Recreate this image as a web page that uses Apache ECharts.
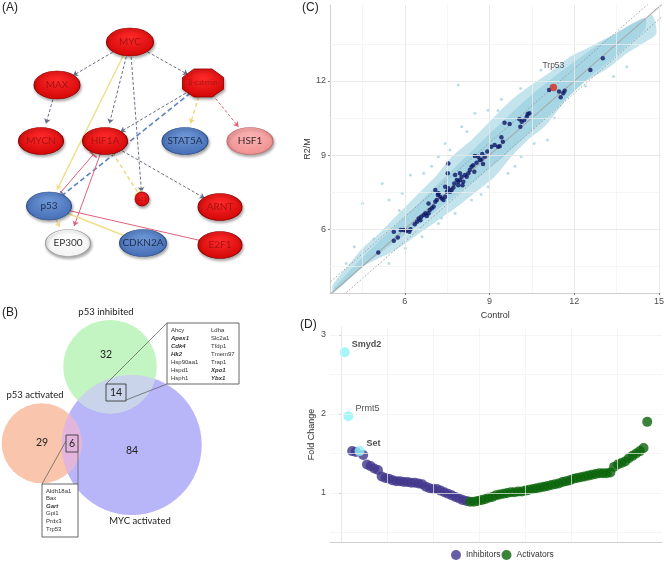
<!DOCTYPE html>
<html><head><meta charset="utf-8">
<script src="https://cdn.jsdelivr.net/npm/echarts@6/dist/echarts.min.js"></script>
<style>html,body{margin:0;padding:0;background:#fff}#c{width:667px;height:561px}</style>
</head><body><div id="c"></div>
<script>
// ================= DATA =================
// Panel A: regulatory network
const netNodes  = ['MYC','MAX','β-catenin','MYCN','HIF1A','STAT5A','HSF1','p21','p53','ARNT','EP300','CDKN2A','E2F1'];
const netStates = ['up','up','up','up','up','down','weak','up','down','up','none','down','up'];
// [source, target, effect, line style]
const netLinks = [
  ['MYC','MAX','act','grey'],
  ['MYC','β-catenin','act','grey'],
  ['MYC','HIF1A','act','grey'],
  ['MYC','p21','act','grey'],
  ['MYC','p53','act','yellow'],
  ['MAX','MYCN','act','grey'],
  ['β-catenin','HIF1A','act','grey'],
  ['β-catenin','STAT5A','act','yellowDash'],
  ['β-catenin','HSF1','act','redDash'],
  ['β-catenin','p53','inh','blueDash'],
  ['HIF1A','ARNT','act','grey'],
  ['HIF1A','p21','inh','yellowDash'],
  ['p53','HIF1A','inh','red'],
  ['HIF1A','EP300','act','red'],
  ['p53','EP300','act','yellow'],
  ['p53','CDKN2A','inh','yellow'],
  ['p53','E2F1','inh','red']
];

// Panel B: Venn diagram
const vennSets   = ['p53 inhibited','p53 activated','MYC activated'];
const vennOnly   = [32, 29, 84];
const vennInhMyc = 14;
const vennActMyc = 6;
const genesInhMycCol1 = ['Ahcy','Apex1','Cdk4','Hk2','Hsp90aa1','Hspd1','Hsph1'];
const genesInhMycCol2 = ['Ldha','Slc2a1','Tfdp1','Tmem97','Trap1','Xpo1','Ybx1'];
const genesActMyc     = ['Aldh18a1','Bax','Gart','Gpi1','Prdx3','Trp53'];
const genesBold       = ['Apex1','Cdk4','Hk2','Xpo1','Ybx1','Gart'];

// Panel C: expression scatter (Control vs R2/M)
const cloudUpper = [[3.45,3.73],[3.80,4.27],[4.15,4.74],[4.50,5.22],[5.09,5.82],[5.67,6.50],[6.37,7.31],[7.08,8.12],[7.66,8.93],[8.36,9.61],[9.06,10.42],[9.77,11.23],[10.47,11.84],[11.17,12.38],[11.87,12.99],[12.57,13.39],[13.27,13.80],[13.86,14.00],[14.21,14.07],[14.74,14.68]];
const cloudLower = [[3.45,3.40],[3.57,3.53],[4.50,4.47],[5.67,5.15],[6.84,6.09],[8.01,7.04],[8.60,7.58],[9.18,8.12],[9.77,8.93],[10.35,9.61],[10.94,10.15],[11.52,10.96],[12.11,11.77],[12.69,12.18],[13.27,12.58],[13.86,13.12],[14.44,13.53],[14.91,13.93]];
const coreUpper  = [[3.50,3.62],[4.50,4.85],[5.50,5.95],[6.50,7.05],[7.50,8.20],[8.50,9.30],[9.50,10.40],[10.50,11.45],[11.50,12.35],[12.50,13.20],[13.50,13.95],[14.50,14.55]];
const coreLower  = [[3.50,3.45],[4.50,4.45],[5.50,5.35],[6.50,6.20],[7.50,7.10],[8.50,8.00],[9.50,8.95],[10.50,10.00],[11.50,11.05],[12.50,12.10],[13.50,13.05],[14.50,14.10]];
const lightOutliers = [[7.89,11.84],[5.20,7.85],[4.50,7.04],[9.42,11.26],[7.43,9.47],[6.20,8.19],[4.21,5.28],[3.92,4.61],[4.74,4.88],[5.44,7.18],[5.91,7.45],[6.67,8.26],[7.19,8.93],[8.01,10.15],[8.48,10.69],[8.95,10.82],[10.94,11.23],[11.75,11.36],[10.82,12.45],[11.52,12.04],[12.22,12.51],[10.12,8.93],[10.58,9.47],[11.05,9.61],[9.65,8.26],[8.95,7.72],[8.36,7.18],[7.78,6.64],[7.19,6.23],[6.61,5.69],[6.02,5.22],[5.44,4.61],[13.39,12.18],[13.86,12.58],[6.95,8.55],[7.60,9.20],[8.20,9.95],[9.30,10.80],[10.10,11.70],[7.30,6.45],[8.70,7.40],[9.90,8.55],[11.30,10.50],[12.40,11.80],[5.80,6.75],[4.90,5.60]];
const darkControl = [5.06,5.61,5.61,5.75,5.85,5.96,6.05,6.16,6.20,6.35,6.43,6.49,6.55,6.58,6.67,6.73,6.78,6.84,6.88,6.96,7.02,7.08,7.13,7.17,7.25,7.31,7.37,7.43,7.49,7.54,7.60,7.66,7.72,7.75,7.84,7.89,7.95,8.01,8.04,8.07,8.13,8.19,8.25,8.30,8.36,8.42,8.46,8.48,8.54,8.60,8.65,8.71,8.74,8.77,8.83,8.92,9.06,9.18,9.30,9.36,9.42,9.47,9.53,9.71,10.06,10.09,10.14,10.23,10.32,10.35,10.41,11.11,11.46,11.52,11.61,11.66,12.57,13.01,7.52,7.54,7.78,7.95,7.89,7.19,7.08,6.84,7.43];
const darkR2M     = [5.05,5.89,5.53,5.66,5.96,5.96,5.93,5.89,5.99,6.20,6.30,6.43,6.36,6.50,6.57,6.64,6.53,6.64,6.77,6.84,6.91,7.11,7.18,7.38,7.31,7.24,7.18,7.31,7.51,7.65,7.51,7.58,7.69,7.85,7.99,7.92,7.99,8.12,7.78,7.92,8.19,8.12,8.26,8.39,8.53,8.59,8.32,8.96,8.69,8.93,8.80,8.82,9.04,8.64,8.93,9.14,9.34,9.41,9.34,9.36,9.72,9.54,10.31,10.26,10.45,10.15,10.35,10.42,10.55,10.66,10.69,11.64,11.57,11.34,11.50,11.61,12.45,12.92,8.26,8.66,8.19,8.26,7.78,7.45,7.58,7.04,7.72];
const trp53Point = [11.26, 11.74];
const diagOffsets = [0, 0.5, -0.5];
const cTicksX = [6, 9, 12, 15];
const cTicksY = [6, 9, 12];
const cGrid   = [4.5, 6, 7.5, 9, 10.5, 12, 13.5, 15];

// Panel D: fold change of inhibitors / activators
const inhibitorRank = [3,4,6,7,8,9,10,11,12,13,14,15,16,17,18,19,20,21,22,23,24,25,26,27,28,29,30,31,32,33,34];
const inhibitorFC   = [1.53,1.52,1.48,1.36,1.34,1.31,1.29,1.21,1.19,1.18,1.16,1.15,1.15,1.14,1.14,1.13,1.13,1.12,1.11,1.08,1.06,1.05,1.05,1.03,1.01,0.99,0.97,0.95,0.93,0.91,0.90];
const activatorRank = [35,36,37,38,39,40,41,42,43,44,45,46,47,48,49,50,51,52,53,54,55,56,57,58,59,60,61,62,63,64,65,66,67,68,69,70,71,72,73,74,75,76,77,78,79,80,81,82,83];
const activatorFC   = [0.89,0.89,0.90,0.91,0.92,0.94,0.95,0.97,0.98,0.99,1.00,1.01,1.01,1.02,1.02,1.03,1.04,1.05,1.06,1.07,1.08,1.09,1.10,1.11,1.12,1.14,1.15,1.16,1.18,1.19,1.20,1.21,1.22,1.23,1.24,1.25,1.25,1.25,1.26,1.33,1.36,1.38,1.40,1.44,1.47,1.50,1.53,1.57,1.90];
const highlightGenes = ['Smyd2','Prmt5','Set'];
const highlightRank  = [1, 2, 5];
const highlightFC    = [2.78, 1.97, 1.53];
const highlightBold  = [true, false, true];
const dTicksY = [1, 2, 3];
const dGridY  = [0.5, 1, 1.5, 2, 2.5, 3];
const dGridX  = [0, 12.5, 25, 37.5, 50, 62.5, 75];

// ================= LAYOUT / STYLE =================
const FONT = 'Liberation Sans, Arial, sans-serif';
const LATO = 'Lato, Liberation Sans, sans-serif';
// network layout (diagram units, panel A)
const netLayout = {
  'MYC':[130,42,47,28], 'MAX':[57,85,46,28], 'β-catenin':[203,83,41,28],
  'MYCN':[41,141,45,27], 'HIF1A':[105,141,45,27], 'STAT5A':[185,141,46,27], 'HSF1':[250,141,46,27],
  'p21':[142,199,14,14], 'p53':[49,206,45,28], 'ARNT':[220,207,44,27],
  'EP300':[68,243,45,27], 'CDKN2A':[143,243,47,27], 'E2F1':[220,245,44,27]
};
const stateStyle = {
  up:   {c0:'#ff2a2a', c1:'#cc0000', border:'#8a0000', text:'#a51212'},
  down: {c0:'#6f98d8', c1:'#3e67b0', border:'#2b4c88', text:'#1e2d4d'},
  weak: {c0:'#fbb4b4', c1:'#ee8a8a', border:'#bf6a6a', text:'#3a2424'},
  none: {c0:'#ffffff', c1:'#f1f1f1', border:'#9a9a9a', text:'#333333'}
};
const linkStyle = {
  grey:      {color:'#676f86', type:[3,2], width:1},
  yellow:    {color:'#f0de8a', type:'solid', width:1.4},
  yellowDash:{color:'#eed676', type:[4,3], width:1.4},
  red:       {color:'#e0607a', type:'solid', width:1},
  redDash:   {color:'#e0606c', type:[3,2], width:1},
  blueDash:  {color:'#5f80c0', type:[5,3], width:1.6}
};
const ELLIPSE = 'path://M50,0A50,50 0 1 1 50,100A50,50 0 1 1 50,0Z';
const OCTAGON = 'path://M28,0L72,0L100,30L100,72L72,100L28,100L0,72L0,30Z';
const TBAR = 'path://M0,0L10,0L10,10L0,10Z';

const graphNodes = netNodes.map((n, i) => {
  const L = netLayout[n], s = stateStyle[netStates[i]];
  return {
    name: n, value: [L[0], L[1]],
    symbol: n === 'β-catenin' ? OCTAGON : ELLIPSE,
    symbolSize: [L[2], L[3]],
    itemStyle: {
      color: {type:'radial', x:0.5, y:0.35, r:0.75, colorStops:[{offset:0,color:s.c0},{offset:1,color:s.c1}]},
      borderColor: s.border, borderWidth: 0.8,
      shadowColor: 'rgba(0,0,0,0.35)', shadowBlur: 3, shadowOffsetX: 1, shadowOffsetY: 2
    },
    label: {show:true, position:'inside', color:s.text, fontFamily:LATO,
            fontSize: n === 'p21' ? 5 : (n === 'β-catenin' ? 7 : 10)}
  };
});
const graphLinks = netLinks.map(l => ({
  source: l[0], target: l[1],
  symbol: ['none', l[2] === 'act' ? 'arrow' : TBAR],
  symbolSize: [0, l[2] === 'act' ? 5 : [9, 1.6]],
  lineStyle: Object.assign({opacity:1, curveness:0}, linkStyle[l[3]])
}));

// ---- Venn graphic ----
const vennCircles = [
  {c:[131.7,445], r:70,   fill:'#b9b5f9'},   // MYC activated
  {c:[110,366.7], r:46.7, fill:'#c3f5c3'},   // p53 inhibited
  {c:[41.7,443.3], r:40,  fill:'#f9c6ad'}    // p53 activated
];
function lens(c1, r1, c2, r2) {
  const dx = c2[0]-c1[0], dy = c2[1]-c1[1], d = Math.hypot(dx, dy);
  const a = (r1*r1 - r2*r2 + d*d) / (2*d);
  const t1 = Math.acos(a / r1), t2 = Math.acos((d - a) / r2), base = Math.atan2(dy, dx);
  const pts = [], N = 40;
  for (let i = 0; i <= N; i++) { const g = base - t1 + 2*t1*i/N; pts.push([c1[0]+r1*Math.cos(g), c1[1]+r1*Math.sin(g)]); }
  for (let i = 0; i <= N; i++) { const g = base + Math.PI - t2 + 2*t2*i/N; pts.push([c2[0]+r2*Math.cos(g), c2[1]+r2*Math.sin(g)]); }
  return pts;
}
const gfx = [];
vennCircles.forEach(v => gfx.push({type:'circle', shape:{cx:v.c[0], cy:v.c[1], r:v.r}, style:{fill:v.fill}, z:1}));
gfx.push({type:'polygon', shape:{points: lens(vennCircles[1].c, vennCircles[1].r, vennCircles[0].c, vennCircles[0].r)}, style:{fill:'#c9d4ea'}, z:2});
gfx.push({type:'polygon', shape:{points: lens(vennCircles[2].c, vennCircles[2].r, vennCircles[0].c, vennCircles[0].r)}, style:{fill:'#e2b5dc'}, z:2});
function txt(x, y, t, opt) {
  gfx.push({type:'text', x:x, y:y, z:5, style:Object.assign({text:t, fill:'#222', font:'9.5px ' + LATO, align:'center', verticalAlign:'middle'}, opt || {})});
}
txt(106, 312, vennSets[0]);
txt(35, 395, vennSets[1]);
txt(140, 521, vennSets[2]);
const numFont = {font:'10.5px ' + LATO};
txt(106, 355, String(vennOnly[0]), numFont);
txt(42, 443, String(vennOnly[1]), numFont);
txt(132, 451, String(vennOnly[2]), numFont);
txt(116, 393, String(vennInhMyc), numFont);
txt(72, 443.5, String(vennActMyc), numFont);
const boxStroke = {stroke:'#3a3a3a', lineWidth:0.9, fill:null};
gfx.push({type:'rect', shape:{x:106, y:384, width:20, height:17}, style:Object.assign({}, boxStroke), z:4});
gfx.push({type:'rect', shape:{x:66, y:435, width:12, height:17}, style:Object.assign({}, boxStroke), z:4});
gfx.push({type:'line', shape:{x1:106, y1:384, x2:167, y2:323}, style:{stroke:'#555', lineWidth:0.7}, z:4});
gfx.push({type:'line', shape:{x1:126, y1:400, x2:167, y2:384}, style:{stroke:'#555', lineWidth:0.7}, z:4});
gfx.push({type:'line', shape:{x1:66, y1:441, x2:42, y2:484}, style:{stroke:'#555', lineWidth:0.7}, z:4});
gfx.push({type:'line', shape:{x1:78, y1:452, x2:78, y2:484}, style:{stroke:'#555', lineWidth:0.7}, z:4});
gfx.push({type:'rect', shape:{x:167, y:323, width:72, height:61}, style:{fill:'#fff', stroke:'#555', lineWidth:0.9}, z:4});
gfx.push({type:'rect', shape:{x:42, y:484, width:36, height:53}, style:{fill:'#fff', stroke:'#555', lineWidth:0.9}, z:4});
function gene(x, y, g) {
  const b = genesBold.indexOf(g) >= 0;
  txt(x, y, g, {align:'left', fill:'#333', font:(b ? 'italic bold ' : '') + '6px ' + FONT});
}
genesInhMycCol1.forEach((g, i) => gene(171, 330 + 8*i, g));
genesInhMycCol2.forEach((g, i) => gene(211, 330 + 8*i, g));
genesActMyc.forEach((g, i) => gene(46, 491 + 7.6*i, g));
// panel letters
txt(2, 8, '(A)', {align:'left', font:'12px ' + FONT});
txt(2, 313, '(B)', {align:'left', font:'12px ' + FONT});
txt(302, 8, '(C)', {align:'left', font:'12px ' + FONT});
txt(300, 325, '(D)', {align:'left', font:'12px ' + FONT});

// ================= CHART =================
const chart = echarts.init(document.getElementById('c'), null, {renderer:'canvas'});
const axisTxt = {fontSize:9, color:'#4d4d4d', fontFamily:FONT};
const gridLine = (v, key, major) => ({[key]: v, lineStyle:{color: major ? '#e6e6e6' : '#f1f1f1', width: major ? 0.9 : 0.7, type:'solid'}});
const bandPolygon = (upper, lower, fill, z) => ({type:'custom', xAxisIndex:0, yAxisIndex:0, z:z, silent:true, data:[upper[0]],
  renderItem: (params, api) => {
    const pts = upper.map(p => api.coord(p)).concat(lower.slice().reverse().map(p => api.coord(p)));
    return {type:'polygon', shape:{points:pts, smooth:0.25}, style:{fill:fill}};
  }});

const series = [];
// C: grid lines
series.push({type:'line', xAxisIndex:0, yAxisIndex:0, data:[], z:0, silent:true,
  markLine:{silent:true, symbol:'none', label:{show:false}, animation:false,
    data: cGrid.map(v => gridLine(v, 'xAxis', v % 3 === 0)).concat(cGrid.filter(v => v < 15).map(v => gridLine(v, 'yAxis', v % 3 === 0)))}});
// C: cloud of all genes (outer fringe + dense core)
series.push(bandPolygon(cloudUpper, cloudLower, '#c3e3ed', 1));
series.push(bandPolygon(coreUpper, coreLower, '#a6d5e3', 1));
series.push({type:'scatter', xAxisIndex:0, yAxisIndex:0, z:2, symbolSize:3, silent:true,
  itemStyle:{color:'#a6d5e3'}, data: lightOutliers});
diagOffsets.forEach(o => series.push({type:'line', xAxisIndex:0, yAxisIndex:0, z:3, silent:true, showSymbol:false,
  symbol:'none', data:[[3, 3 + o], [16, 16 + o]],
  lineStyle: o === 0 ? {color:'#a9a9a9', width:1.1} : {color:'#8c8c8c', width:0.8, type:[1.5,2]}}));
series.push({type:'scatter', xAxisIndex:0, yAxisIndex:0, z:4, symbolSize:4.5, silent:true,
  itemStyle:{color:'#0c1566'}, data: darkControl.map((x, i) => [x, darkR2M[i]])});
series.push({type:'scatter', xAxisIndex:0, yAxisIndex:0, z:5, symbolSize:7.5, silent:true,
  itemStyle:{color:'#d42a1e'}, data:[trp53Point],
  label:{show:true, formatter:'Trp53', position:'top', distance:14, fontSize:8.5, color:'#222', fontFamily:FONT}});

// D: grid lines
series.push({type:'line', xAxisIndex:1, yAxisIndex:1, data:[], z:0, silent:true,
  markLine:{silent:true, symbol:'none', label:{show:false}, animation:false,
    data: dGridX.map(v => gridLine(v, 'xAxis', false)).concat(dGridY.map(v => gridLine(v, 'yAxis', false)))}});
series.push({name:'Inhibitors', type:'scatter', xAxisIndex:1, yAxisIndex:1, z:3, symbolSize:10,
  itemStyle:{color:'#41378c'}, data: inhibitorRank.map((r, i) => [r, inhibitorFC[i]])});
series.push({name:'Activators', type:'scatter', xAxisIndex:1, yAxisIndex:1, z:3, symbolSize:10,
  itemStyle:{color:'#0a640a'}, data: activatorRank.map((r, i) => [r, activatorFC[i]])});
series.push({name:'highlight', type:'scatter', xAxisIndex:1, yAxisIndex:1, z:4, symbolSize:10,
  itemStyle:{color:'#8ef3f8'},
  data: highlightRank.map((r, i) => ({value:[r, highlightFC[i]], name:highlightGenes[i],
    label:{fontWeight: highlightBold[i] ? 'bold' : 'normal'}})),
  label:{show:true, formatter:'{b}', position:'right', offset:[-3,-8], fontSize:9, color:'#222', fontFamily:FONT}});

// A: network graph
series.push({type:'graph', coordinateSystem:'cartesian2d', xAxisIndex:2, yAxisIndex:2, z:3,
  layout:'none', silent:true, data: graphNodes, links: graphLinks, edgeSymbol:['none','arrow']});

chart.setOption({
  animation:false,
  textStyle:{fontFamily:FONT},
  grid:[
    {left:330, top:5, width:332, height:288},
    {left:330, top:327, width:332, height:215},
    {left:0, top:0, width:300, height:280}
  ],
  xAxis:[
    {gridIndex:0, type:'value', min:3.35, max:15.05, splitLine:{show:false},
     axisLine:{lineStyle:{color:'#cfcfcf'}}, axisTick:{customValues:cTicksX, length:2, lineStyle:{color:'#888'}},
     axisLabel:Object.assign({customValues:cTicksX, margin:4}, axisTxt),
     name:'Control', nameLocation:'middle', nameGap:14, nameTextStyle:{fontSize:9, color:'#333'}},
    {gridIndex:1, type:'value', min:-3, max:87, splitLine:{show:false},
     axisLine:{lineStyle:{color:'#cfcfcf'}}, axisTick:{show:false}, axisLabel:{show:false}},
    {gridIndex:2, type:'value', min:0, max:300, show:false}
  ],
  yAxis:[
    {gridIndex:0, type:'value', min:3.41, max:15.08, splitLine:{show:false},
     axisLine:{show:true, lineStyle:{color:'#cfcfcf'}}, axisTick:{show:true, customValues:cTicksY, length:2, lineStyle:{color:'#888'}},
     axisLabel:Object.assign({customValues:cTicksY, margin:4}, axisTxt),
     name:'R2/M', nameLocation:'middle', nameGap:16, nameRotate:90, nameTextStyle:{fontSize:9, color:'#333'}},
    {gridIndex:1, type:'value', min:0.38, max:3.1, splitLine:{show:false},
     axisLine:{show:true, lineStyle:{color:'#cfcfcf'}}, axisTick:{show:true, customValues:dTicksY, length:2, lineStyle:{color:'#888'}},
     axisLabel:Object.assign({customValues:dTicksY, margin:4}, axisTxt),
     name:'Fold Change', nameLocation:'middle', nameGap:14, nameRotate:90, nameTextStyle:{fontSize:9, color:'#333'}},
    {gridIndex:2, type:'value', min:0, max:280, inverse:true, show:false}
  ],
  legend:{data:['Inhibitors','Activators'], left:451, top:550, padding:0, icon:'circle', itemWidth:10, itemHeight:10,
    itemGap:1, textStyle:{fontSize:8.5, color:'#333', fontFamily:FONT}, selectedMode:false},
  graphic: gfx,
  series: series
});
</script></body></html>
